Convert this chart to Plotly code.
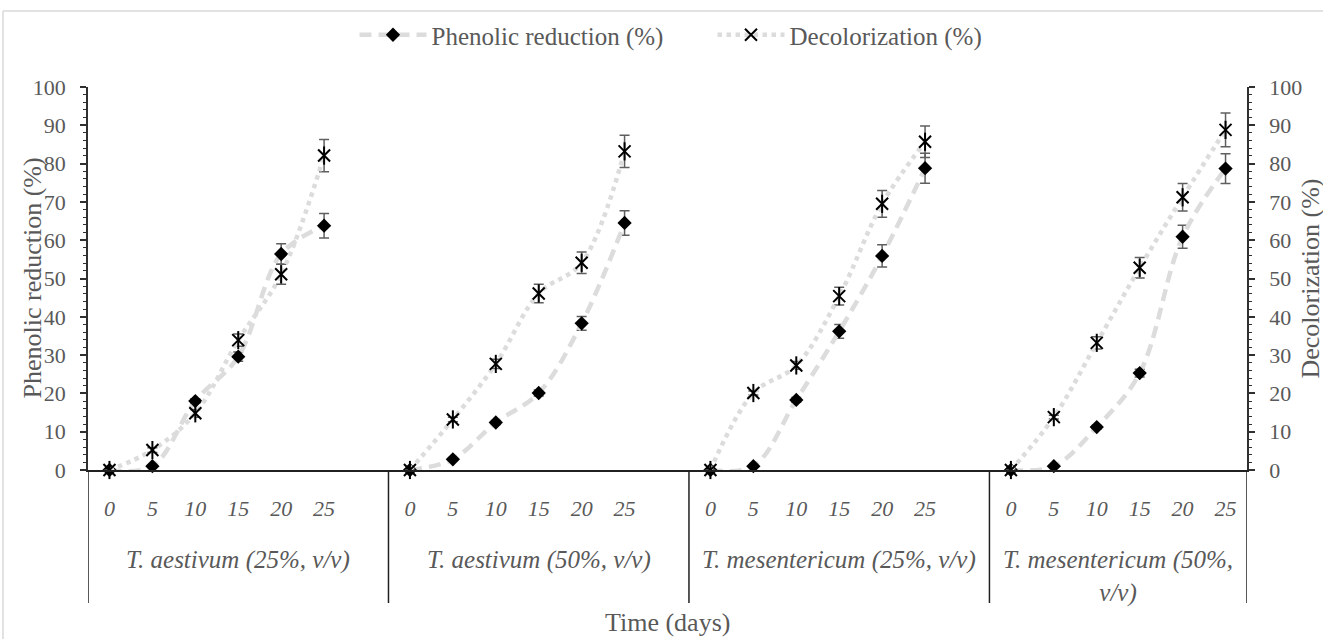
import plotly.graph_objects as go

# ---------------- data ----------------
days = ["0", "5", "10", "15", "20", "25"]
groups = [
    "T. aestivum (25%, v/v)",
    "T. aestivum (50%, v/v)",
    "T. mesentericum (25%, v/v)",
    "T. mesentericum (50%,<br>v/v)",
]

phenolic = [
    [0, 1.0, 18.0, 29.6, 56.4, 63.8],
    [0, 2.8, 12.4, 20.1, 38.3, 64.5],
    [0, 1.0, 18.3, 36.2, 55.9, 78.8],
    [0, 1.0, 11.2, 25.3, 60.9, 78.7],
]
phenolic_err = [
    [0, 0.3, 0.6, 1.2, 2.7, 3.2],
    [0, 0.3, 0.5, 0.8, 1.8, 3.2],
    [0, 0.3, 0.6, 1.8, 2.9, 3.9],
    [0, 0.3, 0.5, 1.0, 3.0, 3.9],
]
decolor = [
    [0, 5.2, 14.8, 33.9, 51.1, 82.1],
    [0, 13.2, 27.7, 46.1, 54.1, 83.2],
    [0, 20.1, 27.3, 45.4, 69.5, 85.7],
    [0, 13.8, 33.2, 52.8, 71.2, 88.8],
]
decolor_err = [
    [0, 0.6, 1.0, 1.6, 2.6, 4.2],
    [0, 0.6, 1.2, 2.4, 2.8, 4.2],
    [0, 0.5, 1.0, 2.3, 3.5, 4.1],
    [0, 0.5, 1.6, 2.7, 3.6, 4.4],
]

# ------------- category slots (one blank slot between groups, as in the source) -------------
xs, yp, ep, yd, ed = [], [], [], [], []
tickvals, ticktext = [], []
group_bounds = []
slot = 0
for gi, g in enumerate(groups):
    group_bounds.append(slot - 0.5)
    for di, d in enumerate(days):
        xs.append(slot); tickvals.append(slot); ticktext.append(d)
        yp.append(phenolic[gi][di]); ep.append(phenolic_err[gi][di])
        yd.append(decolor[gi][di]); ed.append(decolor_err[gi][di])
        slot += 1
    if gi < len(groups) - 1:
        xs.append(slot); yp.append(None); ep.append(0); yd.append(None); ed.append(0)
        slot += 1
group_bounds.append(slot - 0.5)
n_slots = slot

FONT = "Palatino Linotype, Book Antiqua, Liberation Serif, serif"
LINE_GRAY = "#dcdcdc"
ERR_GRAY = "#5f5f5f"
TXT_GRAY = "#595959"
AX_COL = "#303030"

L, R, T, B = 88, 76, 87, 169
W, H = 1323, 639
pw, ph = W - L - R, H - T - B

def px_x(p):
    return (p - L) / pw

def px_y(p):
    return (H - B - p) / ph

fig = go.Figure()
fig.add_trace(go.Scatter(
    x=xs, y=yp, name="Phenolic reduction (%)", mode="lines+markers", legendwidth=276,
    line=dict(color=LINE_GRAY, width=4.5, dash="12px,7px", shape="spline", smoothing=1),
    marker=dict(symbol="diamond", size=11, color="black"),
    error_y=dict(type="data", array=ep, color=ERR_GRAY, thickness=1.5, width=5),
    cliponaxis=False, yaxis="y",
))
fig.add_trace(go.Scatter(
    x=xs, y=yd, name="Decolorization (%)", mode="lines+markers",
    line=dict(color=LINE_GRAY, width=4.5, dash="dot", shape="spline", smoothing=1),
    marker=dict(symbol="x-thin-open", size=12, color="black", line=dict(width=2, color="black")),
    error_y=dict(type="data", array=ed, color=ERR_GRAY, thickness=1.5, width=5),
    cliponaxis=False, yaxis="y2",
))
fig.add_trace(go.Scatter(
    x=xs, y=yd, name="Decolorization (%)", mode="markers", showlegend=False,
    marker=dict(symbol="line-ns-open", size=13, color="black", line=dict(width=2, color="black")),
    cliponaxis=False, yaxis="y2",
))

yax = dict(
    range=[0, 100], dtick=10, showline=True, linecolor=AX_COL, linewidth=1.5,
    ticks="outside", ticklen=6, tickwidth=1.5, tickcolor=AX_COL,
    minor=dict(dtick=2, ticks="outside", ticklen=3, tickwidth=1, tickcolor=AX_COL),
    showgrid=False, zeroline=False,
    tickfont=dict(family=FONT, size=22, color=TXT_GRAY),
    ticklabelstandoff=10,
)

annotations = [
    dict(text="Phenolic reduction (%)", xref="paper", yref="paper", x=px_x(32), y=0.5,
         textangle=-90, showarrow=False, xanchor="center", yanchor="middle",
         font=dict(family=FONT, size=26, color=TXT_GRAY)),
    dict(text="Decolorization (%)", xref="paper", yref="paper", x=px_x(1310), y=0.5,
         textangle=-90, showarrow=False, xanchor="center", yanchor="middle",
         font=dict(family=FONT, size=26, color=TXT_GRAY)),
    dict(text="Time (days)", xref="paper", yref="paper", x=0.5, y=px_y(622),
         showarrow=False, xanchor="center", yanchor="middle",
         font=dict(family=FONT, size=26, color=TXT_GRAY)),
]
for gi, g in enumerate(groups):
    annotations.append(dict(
        text=g, xref="x", yref="paper", x=(group_bounds[gi] + group_bounds[gi + 1]) / 2,
        y=px_y(544), xanchor="center", yanchor="top", showarrow=False,
        font=dict(family=FONT, size=25, color=TXT_GRAY, style="italic"),
    ))

shapes = [
    dict(type="line", xref="paper", yref="paper", x0=px_x(3), x1=px_x(W), y0=px_y(11), y1=px_y(11),
         line=dict(color="#d9d9d9", width=1.5)),
    dict(type="line", xref="paper", yref="paper", x0=px_x(3), x1=px_x(3), y0=px_y(11), y1=px_y(H),
         line=dict(color="#d9d9d9", width=1.5)),
]
for gb in group_bounds:
    shapes.append(dict(type="line", xref="x", yref="paper", x0=gb, x1=gb, y0=0, y1=px_y(603),
                       line=dict(color="#202020", width=1.5)))

fig.update_layout(
    width=W, height=H,
    margin=dict(l=L, r=R, t=T, b=B, autoexpand=False),
    paper_bgcolor="white", plot_bgcolor="white",
    font=dict(family=FONT, color=TXT_GRAY),
    showlegend=True,
    legend=dict(orientation="h", x=px_x(671), xanchor="center", y=px_y(35), yanchor="middle",
                font=dict(family=FONT, size=25, color=TXT_GRAY), itemwidth=67,
                bgcolor="rgba(0,0,0,0)"),
    xaxis=dict(
        range=[-0.5, n_slots - 0.5], tickmode="array", tickvals=tickvals, ticktext=ticktext,
        showline=True, linecolor="#202020", linewidth=1.5,
        ticks="", showgrid=False, zeroline=False,
        tickfont=dict(family=FONT, size=22, color=TXT_GRAY, style="italic"),
        ticklabelstandoff=18,
    ),
    yaxis=yax,
    yaxis2=dict(yax, overlaying="y", side="right"),
    annotations=annotations,
    shapes=shapes,
)

fig.write_html(
    "out.html",
    config={"displayModeBar": False},
    post_script="document.body.style.margin='0px';document.body.style.overflow='hidden';",
)
